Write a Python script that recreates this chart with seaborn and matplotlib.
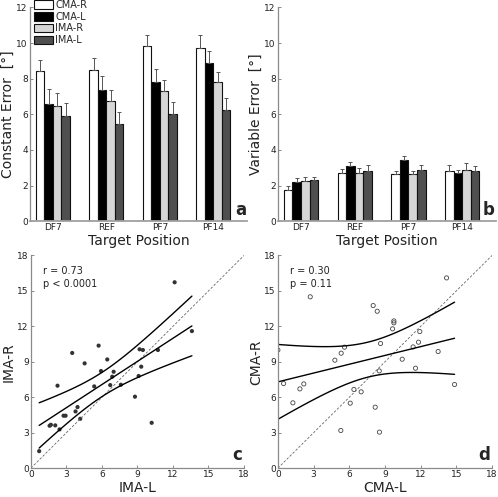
import numpy as np
import pandas as pd
import seaborn as sns
import matplotlib
matplotlib.use('Agg')
import matplotlib.pyplot as plt

# bar panels: rows = group, cols = target position
positions = ['DF7', 'REF', 'PF7', 'PF14']
groups = ['CMA-R', 'CMA-L', 'IMA-R', 'IMA-L']
bar_colors = ['#ffffff', '#000000', '#d6d6d6', '#4f4f4f']

ce_mean = [[8.42, 8.46, 9.85, 9.72],
           [6.59, 7.34, 7.80, 8.87],
           [6.47, 6.74, 7.32, 7.79],
           [5.89, 5.44, 6.02, 6.23]]
ce_sem = [[0.64, 0.70, 0.62, 0.73],
          [0.84, 0.80, 0.75, 0.67],
          [0.70, 0.61, 0.60, 0.60],
          [0.73, 0.68, 0.68, 0.67]]
ve_mean = [[1.76, 2.68, 2.63, 2.83],
           [2.21, 3.08, 3.43, 2.68],
           [2.27, 2.72, 2.63, 2.89],
           [2.31, 2.81, 2.87, 2.81]]
ve_sem = [[0.21, 0.25, 0.18, 0.32],
          [0.21, 0.26, 0.23, 0.19],
          [0.23, 0.26, 0.20, 0.37],
          [0.19, 0.36, 0.30, 0.30]]

# scatter panel c
ima_l = [0.70, 1.58, 1.69, 2.06, 2.42, 2.25, 2.76, 2.93, 3.49, 3.77,
         3.94, 4.17, 4.54, 5.35, 5.72, 5.92, 6.45, 6.70, 6.87, 6.99,
         7.60, 8.79, 9.10, 9.18, 9.46, 9.32, 12.14, 13.60, 10.73, 10.20]
ima_r = [1.44, 3.59, 3.67, 3.62, 3.28, 6.98, 4.44, 4.44, 9.75, 4.80,
         5.17, 4.18, 8.87, 6.92, 10.37, 8.22, 9.20, 7.03, 7.74, 8.16,
         7.06, 6.05, 7.80, 10.06, 10.00, 8.59, 15.73, 11.60, 10.00, 3.84]

# scatter panel d (first point sits on the y axis, mostly hidden)
cma_l = [0.00, 0.48, 1.26, 1.85, 2.18, 2.72, 4.79, 5.32, 5.60, 5.29, 6.08,
         6.39, 7.00, 8.01, 8.35, 8.18, 8.54, 8.63, 8.52, 9.64, 9.75,
         9.75, 10.45, 11.37, 11.57, 11.82, 11.93, 13.47, 14.18, 14.85]
cma_r = [10.00, 7.16, 5.53, 6.71, 7.13, 14.50, 9.14, 9.73, 10.24, 3.19, 5.50,
         6.66, 6.46, 13.76, 13.28, 5.16, 3.05, 10.55, 8.23, 11.79, 12.46,
         12.30, 9.22, 10.26, 8.46, 10.66, 11.56, 9.87, 16.10, 7.08]

sns.set_style('ticks')
plt.rcParams['font.family'] = ['DejaVu Sans']
txt_col = '#222222'
ax_col = '#8a8a8a'


def style_axes(ax):
    sns.despine(ax=ax)
    for sp in ('left', 'bottom'):
        ax.spines[sp].set_color(ax_col)
        ax.spines[sp].set_linewidth(0.9)
    ax.tick_params(direction='in', length=2.5, width=0.7, color=ax_col,
                   labelsize=6.5, labelcolor=txt_col, pad=1.5)


def bar_panel(ax, means, sems, ylabel, letter, legend):
    df = pd.DataFrame({'pos': np.tile(positions, len(groups)),
                       'group': np.repeat(groups, len(positions)),
                       'val': np.ravel(means), 'err': np.ravel(sems)})
    sns.barplot(data=df, x='pos', y='val', hue='group', order=positions,
                hue_order=groups, palette=bar_colors, width=0.64, gap=0,
                edgecolor='#111111', linewidth=0.8, errorbar=None,
                legend=legend, ax=ax)
    for cont, g in zip(ax.containers, groups):
        sub = df[df.group == g]
        xs = [b.get_x() + b.get_width() / 2 for b in cont]
        hs = [b.get_height() for b in cont]
        ax.errorbar(xs, hs, yerr=[np.zeros(len(xs)), sub['err'].values],
                    fmt='none', ecolor='#555555', elinewidth=0.7,
                    capsize=1.3, capthick=0.7)
    ax.set_ylim(0, 12)
    ax.set_yticks(range(0, 13, 2))
    ax.set_xlim(-0.43, 3.63)
    style_axes(ax)
    ax.spines['bottom'].set_linewidth(1.3)
    ax.spines['bottom'].set_color('#a0a0a0')
    ax.set_xlabel('Target Position', fontsize=10, color=txt_col, labelpad=1)
    ax.set_ylabel(ylabel, fontsize=10, color=txt_col, labelpad=1)
    ax.text(0.995, 0.01, letter, transform=ax.transAxes, ha='right',
            va='bottom', fontsize=12, fontweight='bold')
    if legend:
        h, l = ax.get_legend_handles_labels()
        ax.legend(h, l, loc='upper left', bbox_to_anchor=(0.02, 1.035),
                  frameon=False, fontsize=7, handlelength=1.9,
                  handleheight=0.95, labelspacing=0.18, handletextpad=0.25,
                  borderaxespad=0, borderpad=0)


def reg_panel(ax, x, y, filled, xlabel, ylabel, stats, letter):
    x = np.asarray(x)
    y = np.asarray(y)
    n = len(x)
    if filled:
        sns.scatterplot(x=x, y=y, s=9, color='#333333', edgecolor='none', ax=ax)
    else:
        sns.scatterplot(x=x, y=y, s=9, facecolor='none', edgecolor='#444444',
                        linewidth=0.6, ax=ax)
    ax.axline((0, 0), slope=1, color='#666666', lw=0.6, ls=(0, (3, 2)))
    b, a = np.polyfit(x, y, 1)
    xs = np.linspace(x.min(), x.max(), 100)
    yhat = a + b * xs
    s = np.sqrt(np.sum((y - (a + b * x)) ** 2) / (n - 2))
    sxx = np.sum((x - x.mean()) ** 2)
    # simultaneous (Working-Hotelling) 95% band, F(0.95; 2, n-2) ~ 3.34
    w = np.sqrt(2 * 3.34)
    half = w * s * np.sqrt(1 / n + (xs - x.mean()) ** 2 / sxx)
    for line in (yhat, yhat + half, yhat - half):
        ax.plot(xs, line, color='black', lw=1.0)
    ax.set_xlim(0, 18)
    ax.set_ylim(0, 18)
    ax.set_xticks(range(0, 19, 3))
    ax.set_yticks(range(0, 19, 3))
    style_axes(ax)
    ax.set_xlabel(xlabel, fontsize=10, color=txt_col, labelpad=1)
    ax.set_ylabel(ylabel, fontsize=10, color=txt_col, labelpad=1)
    ax.text(0.055, 0.95, stats, transform=ax.transAxes, ha='left', va='top',
            fontsize=7, color=txt_col, linespacing=1.35)
    ax.text(0.99, 0.02, letter, transform=ax.transAxes, ha='right',
            va='bottom', fontsize=12, fontweight='bold')


fig = plt.figure(figsize=(4.98, 4.97), dpi=100)
ax_a = fig.add_axes([0.060, 0.555, 0.436, 0.430])
ax_b = fig.add_axes([0.558, 0.555, 0.438, 0.430])
ax_c = fig.add_axes([0.062, 0.058, 0.428, 0.428])
ax_d = fig.add_axes([0.558, 0.058, 0.430, 0.428])

bar_panel(ax_a, ce_mean, ce_sem, 'Constant Error  [°]', 'a', True)
bar_panel(ax_b, ve_mean, ve_sem, 'Variable Error  [°]', 'b', False)
reg_panel(ax_c, ima_l, ima_r, True, 'IMA-L', 'IMA-R',
          'r = 0.73\np < 0.0001', 'c')
reg_panel(ax_d, cma_l, cma_r, False, 'CMA-L', 'CMA-R',
          'r = 0.30\np = 0.11', 'd')

fig.savefig('out.png', dpi=100)
